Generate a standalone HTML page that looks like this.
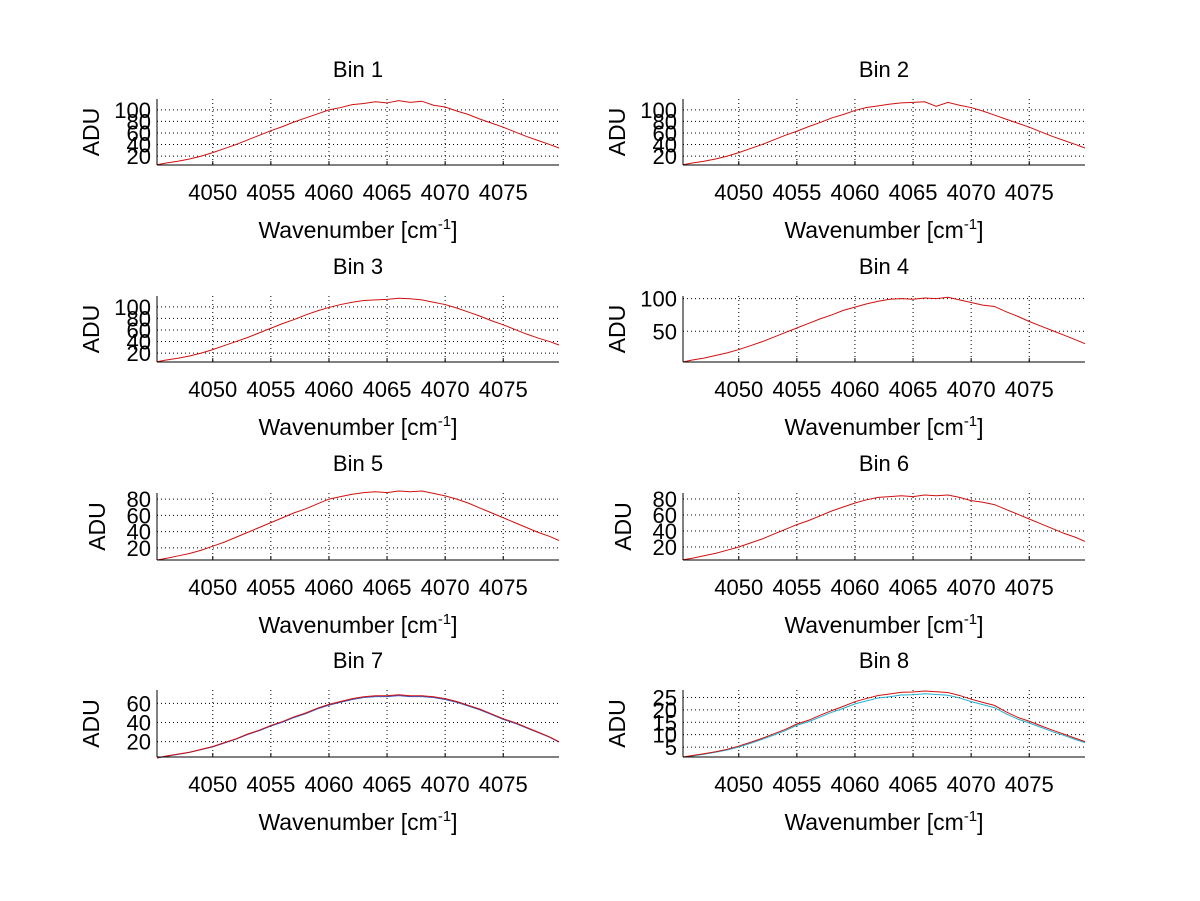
<!DOCTYPE html>
<html><head><meta charset="utf-8"><style>
html,body{margin:0;padding:0;background:#fff;}
svg{display:block;font-family:"Liberation Sans",sans-serif;}
</style></head><body>
<svg id="fig" width="1200" height="901" viewBox="0 0 1200 901" xmlns="http://www.w3.org/2000/svg"></svg>
<script>
const wavenumbers = [4045,4046,4047,4048,4049,4050,4051,4052,4053,4054,4055,4056,4057,4058,4059,4060,4061,4062,4063,4064,4065,4066,4067,4068,4069,4070,4071,4072,4073,4074,4075,4076,4077,4078,4079,4080];
const xTicks = [4050,4055,4060,4065,4070,4075];
const bin1 = [5,8,11,15,20,26,33,40,48,56,64,71,79,86,93,100,104,109,111,114,112,116,113,115,108,105,98,92,84,77,70,62,54,47,40,34];
const bin2 = [5,8,11,15,20,26,33,40,48,56,63,71,78,86,92,99,104,107,110,112,113,114,106,113,108,104,98,91,84,77,70,62,54,47,40,34];
const bin3 = [5,8,11,15,20,26,33,40,47,55,63,71,78,86,93,99,104,108,111,112,113,115,114,112,108,104,98,91,84,76,69,61,53,46,40,34];
const bin4 = [3,6,9,13,17,22,28,34,41,48,55,62,69,75,82,87,92,96,99,100,99,101,100,102,98,94,90,88,80,73,65,58,51,44,37,31];
const bin5 = [5,7,10,13,17,22,27,33,39,45,51,57,63,68,74,80,83,86,88,89,88,90,89,90,87,84,80,75,69,63,57,51,45,39,34,29];
const bin6 = [4,6,9,12,16,20,25,30,36,42,48,53,59,65,70,75,79,82,83,84,83,85,84,85,82,78,76,73,67,61,55,49,43,37,32,27];
const bin7 = [3,5,7,9,12,15,19,23,28,32,37,41,46,50,55,59,62,65,67,68,68,69,68,68,67,65,62,58,54,49,44,40,35,30,25,20];
const bin7b = [3,4.8,6.8,8.8,11.7,14.6,18.6,22.6,27.5,31.5,36.4,40.4,45.3,49.3,54.2,58.2,61.2,64.1,66.1,67.1,67.1,68.1,67.1,67.1,66.1,64.1,61.2,57.2,53.2,48.3,43.3,39.3,34.4,29.5,24.6,19.6];
const bin8 = [1,1.6,2.3,3.1,4.1,5.4,6.9,8.5,10.3,12.1,14.3,15.8,17.8,19.7,21.4,23.3,24.6,25.8,26.4,27.1,27.2,27.6,27.3,27.0,25.8,24.3,23.0,21.8,19.2,17.0,15.4,13.6,11.8,10.2,8.5,7.2];
const bin8b = [0.9,1.4,2.1,2.9,3.8,5.0,6.5,8.1,9.8,11.6,13.8,15.2,17.1,19.0,20.6,22.4,23.6,24.8,25.3,26.0,26.1,26.5,26.2,25.9,24.8,23.3,22.1,20.9,18.4,16.3,14.7,13.0,11.2,9.7,8.0,6.8];
const binsData = [[bin1],[bin2],[bin3],[bin4],[bin5],[bin6],[bin7b,bin7],[bin8b,bin8]];
const yTickSets = [[20,40,60,80,100],[20,40,60,80,100],[20,40,60,80,100],[50,100],[20,40,60,80],[20,40,60,80],[20,40,60],[5,10,15,20,25]];
const yLims = [[4.6,118.8],[4.6,118.8],[4.6,118.8],[3,104],[5,87.5],[3.75,87.5],[4,74],[1,28]];
const xLim = [4045.2, 4079.8];

const NS="http://www.w3.org/2000/svg";
const svg=document.getElementById('fig');
function mk(tag,attrs,parent){const e=document.createElementNS(NS,tag);for(const k in attrs)e.setAttribute(k,attrs[k]);(parent||svg).appendChild(e);return e;}
const colL=[157,559], colR=[683,1085];
const rows=[[99,165],[296,362],[493,560],[690,757]];
const colors=[['#d01010'],['#d01010'],['#d01010'],['#d01010'],['#d01010'],['#d01010'],['#3050c0','#d01010'],['#20b0d0','#d01010']];
for(let i=0;i<8;i++){
  const c=i%2===0?colL:colR, r=rows[Math.floor(i/2)];
  const g=mk('g',{});
  
  
  const xs=v=>c[0]+(v-xLim[0])/(xLim[1]-xLim[0])*(c[1]-c[0]);
  const ys=v=>r[1]-(v-yLims[i][0])/(yLims[i][1]-yLims[i][0])*(r[1]-r[0]);
  xTicks.forEach(t=>{const l=mk('line',{x1:xs(t),x2:xs(t),y1:r[0],y2:r[1],stroke:'#000','stroke-width':1,'stroke-dasharray':'1,3'},g);
    
    mk('line',{x1:xs(t),x2:xs(t),y1:r[1],y2:r[1]-4,stroke:'#000'},g);
    const tx=mk('text',{x:xs(t),y:r[1]+35,'font-size':22,'text-anchor':'middle'},g);tx.textContent=t;
    });
  yTickSets[i].forEach(t=>{const l=mk('line',{x1:c[0],x2:c[1],y1:ys(t),y2:ys(t),stroke:'#000','stroke-width':1,'stroke-dasharray':'1,3'},g);
    
    const tx=mk('text',{x:c[0]-6,y:ys(t)+8,'font-size':22,'text-anchor':'end'},g);tx.textContent=t;
    });
  binsData[i].forEach((s,k)=>{
    const col=binsData[i].length>1?colors[i][k]:colors[i][0];
    const pts=wavenumbers.map((w,j)=>[Math.max(c[0],Math.min(c[1],xs(w))),ys(s[j])]);
    const p=mk('polyline',{points:pts.map(p=>p.join(',')).join(' '),fill:'none',stroke:col,'stroke-width':1},g);
    
  });
  mk('line',{x1:c[0],x2:c[0],y1:r[0],y2:r[1],stroke:'#000'},g);
  mk('line',{x1:c[0],x2:c[1],y1:r[1],y2:r[1],stroke:'#000'},g);
  const cx=(c[0]+c[1])/2;
  const tt=mk('text',{x:cx,y:r[0]-22,'font-size':22,'text-anchor':'middle'},g);tt.textContent='Bin '+(i+1);
  
  const xl=mk('text',{x:cx,y:r[1]+73,'font-size':23,'text-anchor':'middle'},g);
  xl.innerHTML='Wavenumber [cm<tspan dy="-9" font-size="15">-1</tspan><tspan dy="9">]</tspan>';
  
  const ylx=(i===4||i===5)?c[0]-52:c[0]-58;
  const yl=mk('text',{x:ylx,y:(r[0]+r[1])/2,'font-size':23,'text-anchor':'middle',transform:`rotate(-90 ${ylx} ${(r[0]+r[1])/2})`},g);
  yl.textContent='ADU';
  
}
</script>
</body></html>
